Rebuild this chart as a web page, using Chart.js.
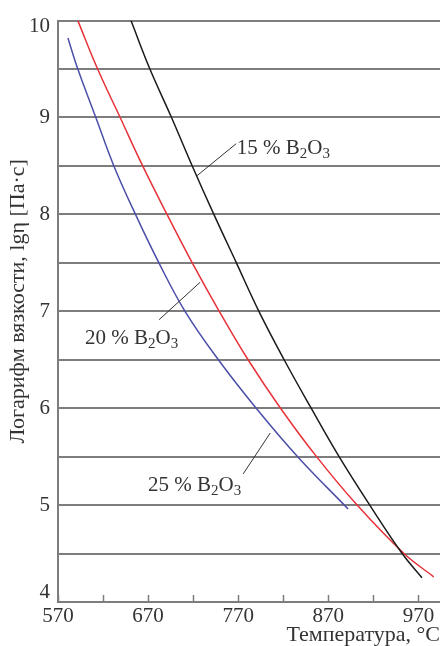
<!DOCTYPE html>
<html><head><meta charset="utf-8">
<script src="https://cdn.jsdelivr.net/npm/chart.js@4"></script>
<style>html,body{margin:0;padding:0;background:#fff}</style>
</head><body>
<canvas id="c" width="440" height="646"></canvas>
<script>
// ---- data ----
const T15 = [651, 672, 696, 719, 743, 768, 793, 821, 851, 882, 916, 952, 974];
const V15 = [10, 9.5, 9, 8.5, 8, 7.5, 7, 6.5, 6, 5.5, 5, 4.5, 4.25];
const T20 = [592, 614, 639, 664, 691, 719, 749, 781, 817, 857, 902, 954, 987];
const V20 = [10, 9.5, 9, 8.5, 8, 7.5, 7, 6.5, 6, 5.5, 5, 4.5, 4.26];
const T25 = [581, 592, 612, 632, 656, 682, 711, 748, 790, 836, 892];
const V25 = [9.82, 9.5, 9, 8.5, 8, 7.5, 7, 6.5, 6, 5.5, 4.96];
const SERIES_NAMES = ['15 %', '20 %', '25 %'];
const X_TICKS = [570, 620, 670, 720, 770, 820, 870, 920, 970];
const X_LABELS = [570, 670, 770, 870, 970];
const Y_TICKS = [4, 4.5, 5, 5.5, 6, 6.5, 7, 7.5, 8, 8.5, 9, 9.5, 10];
const Y_LABELS = [5, 6, 7, 8, 9];
const Y_EDGE_LABELS = [4, 10];
const X_TITLE = 'Температура, °C';
const Y_TITLE = 'Логарифм вязкости, lgη [Па·с]';

// annotation anchors in data units
const ANNOTATIONS = [
  {name: SERIES_NAMES[0], line: [[724.4, 8.40], [767.8, 8.73]], text: [768.5, 8.626]},
  {name: SERIES_NAMES[1], line: [[682.2, 6.913], [727.8, 7.30]], text: [600, 6.667]},
  {name: SERIES_NAMES[2], line: [[775.6, 5.323], [805.6, 5.744]], text: [670, 5.149]}
];

const SERIF = '"Liberation Serif", "Times New Roman", serif';
const TEXT = '#333';
const GRID = '#7d7d7d';

const pts = (xs, ys) => xs.map((x, i) => ({x, y: ys[i]}));

const annotPlugin = {
  id: 'annot',
  afterDatasetsDraw(chart) {
    const {ctx, scales: {x, y}, chartArea} = chart;
    ctx.save();
    // inward x ticks
    ctx.strokeStyle = GRID;
    ctx.lineWidth = 1.5;
    X_TICKS.forEach(v => {
      const px = Math.round(x.getPixelForValue(v)) + 0.5;
      ctx.beginPath();
      ctx.moveTo(px, chartArea.bottom);
      ctx.lineTo(px, chartArea.bottom - 7);
      ctx.stroke();
    });
    // leader lines + labels
    ctx.strokeStyle = '#333';
    ctx.lineWidth = 1;
    ctx.fillStyle = TEXT;
    ctx.textBaseline = 'alphabetic';
    ctx.textAlign = 'left';
    ANNOTATIONS.forEach(a => {
      ctx.beginPath();
      ctx.moveTo(x.getPixelForValue(a.line[0][0]), y.getPixelForValue(a.line[0][1]));
      ctx.lineTo(x.getPixelForValue(a.line[1][0]), y.getPixelForValue(a.line[1][1]));
      ctx.stroke();
      let px = x.getPixelForValue(a.text[0]);
      const py = y.getPixelForValue(a.text[1]);
      const parts = [[a.name + ' B', false], ['2', true], ['O', false], ['3', true]];
      parts.forEach(([s, sub]) => {
        ctx.font = (sub ? '15px ' : '21px ') + SERIF;
        ctx.fillText(s, px, py + (sub ? 4 : 0));
        px += ctx.measureText(s).width;
      });
    });
    // edge y labels (kept inside the plot band, as in the reference)
    ctx.font = '21px ' + SERIF;
    ctx.textAlign = 'right';
    ctx.textBaseline = 'middle';
    Y_EDGE_LABELS.forEach(v => {
      const py = y.getPixelForValue(v) + (v === y.min ? -10 : 6);
      ctx.fillText(String(v), chartArea.left - 8, py);
    });
    // y-axis title
    ctx.font = '22px ' + SERIF;
    ctx.textAlign = 'center';
    ctx.translate(18, (chartArea.top + chartArea.bottom) / 2 - 10);
    ctx.rotate(-Math.PI / 2);
    ctx.fillText(Y_TITLE, 0, 0);
    ctx.restore();
  }
};

new Chart(document.getElementById('c'), {
  type: 'line',
  data: {
    datasets: [
      {label: SERIES_NAMES[0], data: pts(T15, V15), borderColor: '#1b1b1b'},
      {label: SERIES_NAMES[1], data: pts(T20, V20), borderColor: '#e8323a'},
      {label: SERIES_NAMES[2], data: pts(T25, V25), borderColor: '#4c4fa8'}
    ]
  },
  options: {
    responsive: false,
    animation: false,
    elements: {
      point: {radius: 0},
      line: {borderWidth: 1.5, tension: 0.4, fill: false}
    },
    layout: {padding: {top: 17, right: 0, left: 0, bottom: 0}},
    plugins: {legend: {display: false}, tooltip: {enabled: false}},
    scales: {
      x: {
        type: 'linear',
        min: 570, max: 994,
        afterBuildTicks: s => { s.ticks = X_TICKS.map(v => ({value: v})); },
        afterFit: s => { s.height = 44; },
        grid: {display: true, drawOnChartArea: false, drawTicks: false},
        border: {display: true, color: GRID, width: 2},
        ticks: {
          autoSkip: false, maxRotation: 0, padding: 2, color: TEXT,
          font: {family: SERIF, size: 21},
          callback: v => X_LABELS.includes(v) ? String(v) : ''
        },
        title: {display: true, text: X_TITLE, align: 'end', color: TEXT,
          font: {family: SERIF, size: 22, lineHeight: 1}, padding: 0}
      },
      y: {
        type: 'linear',
        min: 4, max: 10,
        afterBuildTicks: s => { s.ticks = Y_TICKS.map(v => ({value: v})); },
        afterFit: s => { s.width = 58; },
        grid: {color: GRID, lineWidth: 2, drawTicks: false},
        border: {display: true, color: GRID, width: 2},
        ticks: {
          autoSkip: false, padding: 8, color: TEXT,
          font: {family: SERIF, size: 21},
          callback: v => Y_LABELS.includes(v) ? String(v) : ''
        },
        title: {display: false, text: Y_TITLE}
      }
    }
  },
  plugins: [annotPlugin]
});
</script>
</body></html>
